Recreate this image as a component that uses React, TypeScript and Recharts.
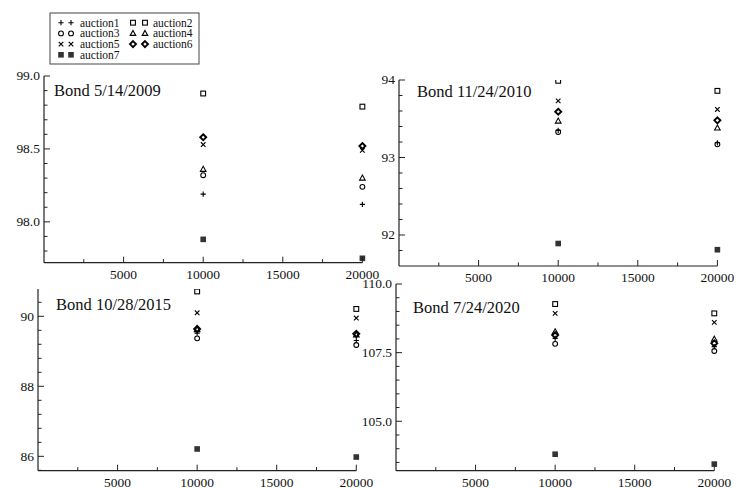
import { ScatterChart, Scatter, XAxis, YAxis } from 'recharts'

const SIZES = [10000, 20000]
const AUCTIONS = ['auction1', 'auction2', 'auction3', 'auction4', 'auction5', 'auction6', 'auction7']
const MARKERS = ['plus', 'square', 'circle', 'triangle', 'cross', 'diamond', 'filled']
const X_TICKS = [2500, 5000, 7500, 10000, 12500, 15000, 17500, 20000]

// one [at 10000, at 20000] pair per auction, auction1..auction7
const BOND_2009 = [
  [98.19, 98.12],
  [98.88, 98.79],
  [98.32, 98.24],
  [98.36, 98.3],
  [98.53, 98.49],
  [98.58, 98.52],
  [97.88, 97.75],
]
const BOND_2010 = [
  [93.35, 93.19],
  [93.99, 93.86],
  [93.33, 93.17],
  [93.47, 93.38],
  [93.73, 93.62],
  [93.59, 93.48],
  [91.89, 91.81],
]
const BOND_2015 = [
  [89.52, 89.31],
  [90.71, 90.21],
  [89.37, 89.18],
  [89.62, 89.47],
  [90.1, 89.95],
  [89.64, 89.5],
  [86.21, 85.98],
]
const BOND_2020 = [
  [108.02, 107.72],
  [109.27, 108.93],
  [107.82, 107.56],
  [108.26, 107.99],
  [108.93, 108.6],
  [108.14, 107.84],
  [103.8, 103.44],
]

const FONT = '"Liberation Serif", "Times New Roman", serif'
const INK = '#111'
const TICK_FS = 13.5

const panels = [
  { title: 'Bond 5/14/2009', values: BOND_2009, x0: 44.3, x1: 362.7, y0: 76, y1: 262.7, domain: [97.72, 99.0], major: 0.5, minor: 0.1, dec: 1, tx: 54, ty: 96 },
  { title: 'Bond 11/24/2010', values: BOND_2010, x0: 399.3, x1: 717.7, y0: 80, y1: 266, domain: [91.6, 94], major: 1, minor: 0.2, dec: 0, tx: 417, ty: 97 },
  { title: 'Bond 10/28/2015', values: BOND_2015, x0: 37.7, x1: 356, y0: 289.3, y1: 471, domain: [85.59, 90.78], major: 2, minor: 0.4, dec: 0, tx: 56, ty: 310 },
  { title: 'Bond 7/24/2020', values: BOND_2020, x0: 395.7, x1: 714, y0: 284, y1: 470.7, domain: [103.2, 110], major: 2.5, minor: 0.5, dec: 1, tx: 413, ty: 313 },
]

function makeTicks(lo: number, hi: number, step: number) {
  const out: number[] = []
  let k = Math.floor(lo / step + 1e-6) + 1
  while (k * step <= hi + 1e-6) {
    out.push(Math.round(k * step * 1000) / 1000)
    k++
  }
  return out
}

function Marker({ kind, cx, cy }: { kind: string; cx: number; cy: number }) {
  const s = { stroke: '#000', strokeWidth: 1.1, fill: 'none' }
  switch (kind) {
    case 'plus':
      return <path d={`M${cx - 2.6},${cy}h5.2M${cx},${cy - 2.6}v5.2`} {...s} />
    case 'square':
      return <rect x={cx - 2.4} y={cy - 2.4} width={4.8} height={4.8} {...s} />
    case 'circle':
      return <circle cx={cx} cy={cy} r={2.4} {...s} />
    case 'triangle':
      return <path d={`M${cx},${cy - 3}L${cx + 2.8},${cy + 2}L${cx - 2.8},${cy + 2}Z`} {...s} />
    case 'cross':
      return <path d={`M${cx - 2.3},${cy - 2.3}l4.6,4.6M${cx + 2.3},${cy - 2.3}l-4.6,4.6`} {...s} />
    case 'diamond':
      return <path d={`M${cx},${cy - 3}L${cx + 3},${cy}L${cx},${cy + 3}L${cx - 3},${cy}Z`} {...s} strokeWidth={1.9} />
    default:
      return <rect x={cx - 2.8} y={cy - 2.8} width={5.6} height={5.6} fill="#333" />
  }
}

const XTick = (p: any) => {
  const v = p.payload.value
  const major = v % 5000 === 0
  return (
    <g>
      <line x1={p.x} x2={p.x} y1={p.y} y2={p.y - (major ? 6 : 3.5)} stroke="#222" strokeWidth={1} />
      {major && (
        <text x={p.x} y={p.y + 16} textAnchor="middle" fontSize={TICK_FS} fontFamily={FONT} fill={INK}>
          {v}
        </text>
      )}
    </g>
  )
}

function makeYTick(major: number, dec: number) {
  return (p: any) => {
    const v = p.payload.value
    const isMajor = Math.abs(v / major - Math.round(v / major)) < 1e-6
    return (
      <g>
        <line x1={p.x} x2={p.x + (isMajor ? 6 : 3.5)} y1={p.y} y2={p.y} stroke="#222" strokeWidth={1} />
        {isMajor && (
          <text x={p.x - 4} y={p.y + 4.5} textAnchor="end" fontSize={TICK_FS} fontFamily={FONT} fill={INK}>
            {v.toFixed(dec)}
          </text>
        )}
      </g>
    )
  }
}

function Panel({ cfg }: { cfg: (typeof panels)[number] }) {
  const padL = 42
  const padT = 10
  const padR = 22
  const padB = 30
  const w = cfg.x1 - cfg.x0 + padL + padR
  const h = cfg.y1 - cfg.y0 + padT + padB
  const yTicks = makeTicks(cfg.domain[0], cfg.domain[1], cfg.minor)
  return (
    <div style={{ position: 'absolute', left: cfg.x0 - padL, top: cfg.y0 - padT }}>
      <ScatterChart width={w} height={h} margin={{ top: padT, right: padR, bottom: 0, left: 0 }}>
        <XAxis
          type="number"
          dataKey="x"
          domain={[0, 20000]}
          ticks={X_TICKS}
          interval={0}
          height={padB}
          tickSize={0}
          tickMargin={0}
          tickLine={false}
          axisLine={{ stroke: '#222', strokeWidth: 1.2 }}
          tick={XTick}
        />
        <YAxis
          type="number"
          dataKey="y"
          domain={cfg.domain}
          allowDataOverflow
          ticks={yTicks}
          interval={0}
          width={padL}
          tickSize={0}
          tickMargin={0}
          tickLine={false}
          axisLine={{ stroke: '#222', strokeWidth: 1.2 }}
          tick={makeYTick(cfg.major, cfg.dec)}
        />
        {AUCTIONS.map((name, i) => (
          <Scatter
            key={name}
            name={name}
            data={SIZES.map((x, j) => ({ x, y: cfg.values[i][j] }))}
            isAnimationActive={false}
            shape={(p: any) => <Marker kind={MARKERS[i]} cx={p.cx} cy={p.cy} />}
          />
        ))}
      </ScatterChart>
    </div>
  )
}

function Legend() {
  const rows = [
    [0, 1],
    [2, 3],
    [4, 5],
    [6],
  ]
  const cols = [
    { m1: 61, m2: 71, tx: 80 },
    { m1: 133, m2: 145, tx: 153 },
  ]
  return (
    <g>
      <rect x={50} y={13} width={149} height={51} fill="#fff" stroke="#444" strokeWidth={1} />
      {rows.map((row, r) =>
        row.map((idx, c) => {
          const cy = 22.7 + r * 10.7
          const col = cols[c]
          return (
            <g key={idx}>
              <Marker kind={MARKERS[idx]} cx={col.m1} cy={cy} />
              <Marker kind={MARKERS[idx]} cx={col.m2} cy={cy} />
              <text x={col.tx} y={cy + 3.8} fontSize={11.5} fontFamily={FONT} fill={INK}>
                {AUCTIONS[idx]}
              </text>
            </g>
          )
        })
      )}
    </g>
  )
}

export default function App() {
  return (
    <div style={{ position: 'fixed', left: 0, top: 0, width: 738, height: 488, background: '#fff', overflow: 'hidden' }}>
      {panels.map((p) => (
        <Panel key={p.title} cfg={p} />
      ))}
      <svg width={738} height={488} style={{ position: 'absolute', left: 0, top: 0, pointerEvents: 'none' }}>
        {panels.map((p) => (
          <text key={p.title} x={p.tx} y={p.ty} fontSize={16.5} fontFamily={FONT} fill={INK}>
            {p.title}
          </text>
        ))}
        <Legend />
      </svg>
    </div>
  )
}
